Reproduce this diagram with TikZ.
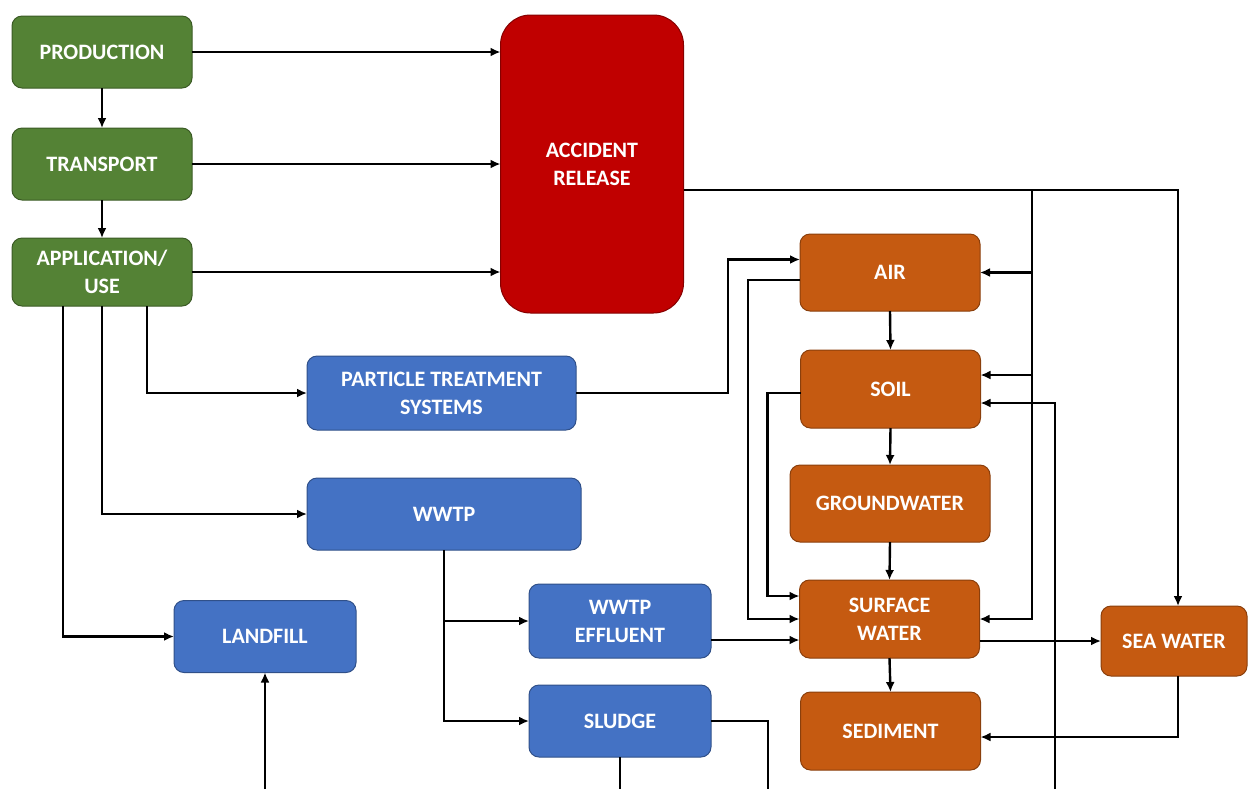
\documentclass[tikz,border=0pt]{standalone}
\usepackage{fontspec}
\setmainfont{Carlito}
\usepackage{tikz}
\usetikzlibrary{arrows.meta}
\definecolor{srcgreen}{HTML}{548235}
\definecolor{accred}{HTML}{C00000}
\definecolor{envorange}{HTML}{C55A11}
\definecolor{techblue}{HTML}{4472C4}
\tikzstyle{box} = [rectangle, rounded corners=5pt, line width=0.5pt, text=white, align=center, outer sep=0pt, minimum width=90pt, minimum height=36pt, font=\bfseries\fontsize{11}{14}\selectfont]
\tikzstyle{srcbox} = [box, fill=srcgreen, draw=srcgreen!70!black]
\tikzstyle{accbox} = [box, fill=accred, draw=accred!70!black, rounded corners=15pt]
\tikzstyle{envbox} = [box, fill=envorange, draw=envorange!70!black]
\tikzstyle{techbox} = [box, fill=techblue, draw=techblue!70!black]
\tikzstyle{link} = [line width=1.2pt, -{Latex[length=5pt,width=4.5pt]}]
\tikzstyle{wire} = [line width=1.2pt]

\begin{document}
\begin{tikzpicture}[x=0.5pt, y=-0.5pt]
\useasboundingbox (0,0) rectangle (1248,789);

% Sources: production chain
\node[srcbox] (prod) at (102, 52) {PRODUCTION};
\node[srcbox] (trans) at (102, 164) {TRANSPORT};
\node[srcbox, minimum height=34pt] (app) at (102, 272) {APPLICATION/\\USE};
% Accident release
\node[accbox, minimum width=91.5pt, minimum height=149pt] (acc) at (592, 164) {ACCIDENT\\RELEASE};
% Technosphere
\node[techbox, minimum width=134.5pt, minimum height=37pt] (pts) at (441.5, 393) {PARTICLE TREATMENT\\SYSTEMS};
\node[techbox, minimum width=137pt] (wwtp) at (444, 514) {WWTP};
\node[techbox, minimum width=91pt] (landf) at (265, 636.5) {LANDFILL};
\node[techbox, minimum width=91pt, minimum height=37pt] (eff) at (620, 621) {WWTP\\EFFLUENT};
\node[techbox, minimum width=91pt] (sludge) at (620, 721) {SLUDGE};
% Environmental compartments
\node[envbox, minimum height=38.5pt] (air) at (890, 272.5) {AIR};
\node[envbox, minimum height=39pt] (soil) at (890.5, 389) {SOIL};
\node[envbox, minimum width=100pt, minimum height=38.5pt] (gw) at (890, 503.5) {GROUNDWATER};
\node[envbox, minimum height=39pt] (sw) at (889.5, 619) {SURFACE\\WATER};
\node[envbox, minimum height=39pt] (sed) at (890.5, 731) {SEDIMENT};
\node[envbox, minimum width=73pt, minimum height=35pt] (sea) at (1174, 641) {SEA WATER};
% free ends
\coordinate (bus) at (1032, 190);
\coordinate (cut1) at (768, 789);
\coordinate (cut2) at (1055, 789);

% CONNECTORS
% production chain
\draw[link] (prod.south) -- (trans.north);
\draw[link] (trans.south) -- (app.north);
\draw[link] (prod.east) -- (prod.east -| acc.west);
\draw[link] (trans.east) -- (trans.east -| acc.west);
\draw[link] (app.east) -- (app.east -| acc.west);
% use to technosphere
\draw[link] ([xshift=22.5pt]app.south) |- (pts.west);
\draw[link] (app.south) |- (wwtp.west);
\draw[link] ([xshift=-19.5pt]app.south) |- (landf.west);
\draw[link] (wwtp.south) |- (sludge.west);
\draw[link] (wwtp.south |- eff.west) -- (eff.west);
% technosphere to environment
\draw[link] (pts.east) -- ++(152,0) |- ([yshift=6.5pt]air.west);
\draw[link] ([yshift=-9.5pt]eff.east) -- ([yshift=-9.5pt]eff.east -| sw.west);
\draw[wire] (sludge.east) -| (cut1);
\draw[wire] (sludge.south) -- (sludge.south |- cut1);
\draw[link] (landf.south |- cut1) -- (landf.south);
% accident release
\draw[link] ([yshift=-13pt]acc.east) -| ([xshift=2pt]sea.north);
\draw[link] (bus) |- (sw.east);
\draw[link] (bus |- air.east) -- (air.east);
\draw[link] ([yshift=7pt]soil.east -| bus) -- ([yshift=7pt]soil.east);
\draw[link] (cut2) |- ([yshift=-7pt]soil.east);
% environmental compartments
\draw[link] (air.south) -- (soil.north);
\draw[link] (soil.south) -- (gw.north);
\draw[link] (gw.south) -- (sw.north);
\draw[link] (sw.south) -- (sed.north);
\draw[link] ([yshift=-3.75pt]air.west) -- ++(-52,0) |- (sw.west);
\draw[link] ([yshift=-2pt]soil.west) -- ++(-33,0) |- ([yshift=11.5pt]sw.west);
\draw[link] (sea.west -| sw.east) -- (sea.west);
\draw[link] ([xshift=2pt]sea.south) |- ([yshift=-3pt]sed.east);
\end{tikzpicture}
\end{document}
